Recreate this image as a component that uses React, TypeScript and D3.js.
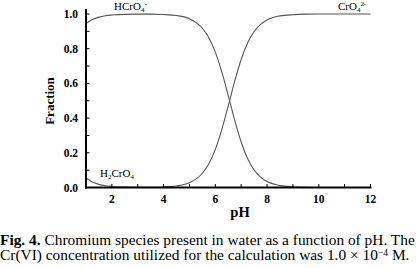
import React from "react";
import * as d3 from "d3";

const pH = [1, 1.25, 1.5, 1.75, 2, 2.5, 3, 3.5, 4, 4.5, 5, 5.5, 5.75, 6, 6.25, 6.5, 6.75, 7, 7.25, 7.5, 7.75, 8, 8.5, 9, 9.5, 10, 11, 12];
const H2CrO4 = [0.055, 0.032, 0.018, 0.01, 0.006, 0.002, 0.001, 0, 0, 0, 0, 0, 0, 0, 0, 0, 0, 0, 0, 0, 0, 0, 0, 0, 0, 0, 0, 0];
const HCrO4 = [0.945, 0.968, 0.982, 0.99, 0.994, 0.998, 0.999, 0.999, 0.997, 0.991, 0.973, 0.918, 0.863, 0.78, 0.666, 0.53, 0.387, 0.262, 0.166, 0.101, 0.06, 0.034, 0.011, 0.004, 0.001, 0, 0, 0];
const CrO4 = [0, 0, 0, 0, 0, 0, 0, 0.001, 0.003, 0.009, 0.027, 0.082, 0.137, 0.22, 0.334, 0.47, 0.613, 0.738, 0.834, 0.899, 0.94, 0.966, 0.989, 0.996, 0.999, 1, 1, 1];

const xTickLabels = [2, 4, 6, 8, 10, 12];
const xMinorTicks = [1, 2, 3, 4, 5, 6, 7, 8, 9, 10, 11, 12];
const yTickLabels = [0, 0.2, 0.4, 0.6, 0.8, 1.0];
const yMinorTicks = [0, 0.1, 0.2, 0.3, 0.4, 0.5, 0.6, 0.7, 0.8, 0.9, 1.0];

const FONT = "'Liberation Serif', 'Times New Roman', Times, serif";
const ff = { fontFamily: FONT };

export default function App() {
  const x = d3.scaleLinear().domain([1, 12]).range([86, 370.5]);
  const y = d3.scaleLinear().domain([0, 1]).range([187.5, 14]);
  const line = (vals: number[]) =>
    d3
      .line<number>()
      .x((_, i) => x(pH[i]))
      .y((v) => y(v))
      .curve(d3.curveMonotoneX)(vals) as string;

  const series = [H2CrO4, HCrO4, CrO4];

  return (
    <svg
      width={420}
      height={268}
      style={{ position: "absolute", left: 0, top: 0, background: "#fff", fontFamily: FONT }}
    >
      <rect width={420} height={268} fill="#fff" />
      {series.map((s, i) => (
        <path key={i} d={line(s)} fill="none" stroke="#555" strokeWidth={1.1} />
      ))}
      {/* axes */}
      <line x1={x(1)} x2={x(1)} y1={9} y2={y(0) + 1} stroke="#000" strokeWidth={2} />
      <line x1={x(1) - 1} x2={x(12) + 1} y1={y(0)} y2={y(0)} stroke="#000" strokeWidth={2} />
      {yMinorTicks.map((t) => (
        <line key={"yt" + t} x1={x(1)} x2={x(1) + 3.5} y1={y(t)} y2={y(t)} stroke="#000" strokeWidth={1} />
      ))}
      {xMinorTicks.map((t) => (
        <line key={"xt" + t} x1={x(t)} x2={x(t)} y1={y(0)} y2={y(0) - 3.5} stroke="#000" strokeWidth={1} />
      ))}
      {yTickLabels.map((t) => (
        <text key={"yl" + t} style={ff} x={78} y={y(t)} dy="0.35em" textAnchor="end" fontSize={11.5} fontWeight="bold">
          {t.toFixed(1)}
        </text>
      ))}
      {xTickLabels.map((t) => (
        <text key={"xl" + t} style={ff} x={x(t)} y={198.5} dy="0.35em" textAnchor="middle" fontSize={11.5} fontWeight="bold">
          {t}
        </text>
      ))}
      <text style={ff} x={240} y={212} dy="0.35em" textAnchor="middle" fontSize={14.5} fontWeight="bold">
        pH
      </text>
      <text
        style={ff}
        transform={`translate(49,101) rotate(-90)`}
        dy="0.35em"
        textAnchor="middle"
        fontSize={13}
        fontWeight="bold"
      >
        Fraction
      </text>
      {/* species labels */}
      <text style={ff} x={114} y={10} fontSize={11}>
        HCrO<tspan fontSize={7} dy={2}>4</tspan>
        <tspan fontSize={7} dy={-6}>-</tspan>
      </text>
      <text style={ff} x={100} y={177} fontSize={11}>
        H<tspan fontSize={7} dy={2}>2</tspan>
        <tspan dy={-2}>CrO</tspan>
        <tspan fontSize={7} dy={2}>4</tspan>
      </text>
      <text style={ff} x={338} y={10} fontSize={11}>
        CrO<tspan fontSize={7} dy={2}>4</tspan>
        <tspan fontSize={7} dy={-6}>2-</tspan>
      </text>
      {/* caption */}
      <text style={ff} x={0} y={245} fontSize={15.4}>
        <tspan fontWeight="bold">Fig. 4.</tspan> Chromium species present in water as a function of pH. The
      </text>
      <text style={ff} x={0} y={260} fontSize={15.4}>
        Cr(VI) concentration utilized for the calculation was 1.0 × 10
        <tspan fontSize={9.5} dy={-4}>−4</tspan>
        <tspan dy={4}> M.</tspan>
      </text>
    </svg>
  );
}
